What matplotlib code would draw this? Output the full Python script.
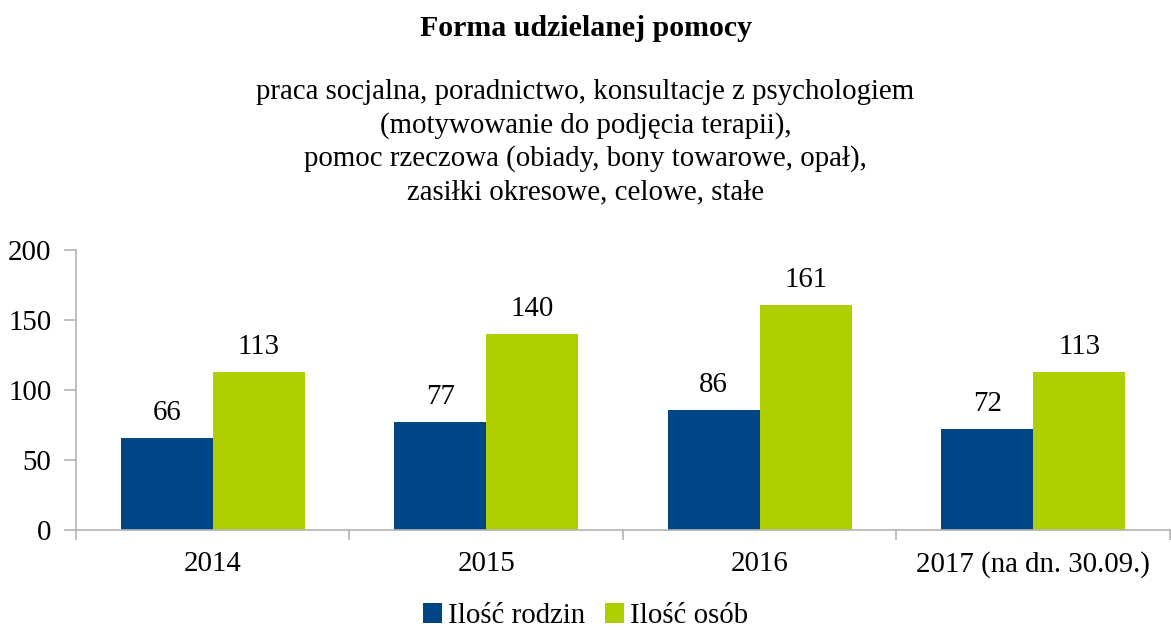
import matplotlib
matplotlib.use("Agg")
import matplotlib.pyplot as plt
import numpy as np

categories = ["2014", "2015", "2016", "2017 (na dn. 30.09.)"]
rodziny = [66, 77, 86, 72]
osoby = [113, 140, 161, 113]
series_names = ["Ilość rodzin", "Ilość osób"]
yticks = [0, 50, 100, 150, 200]

plt.rcParams['font.family'] = ['Liberation Serif', 'DejaVu Serif']
FS = 20.8

fig = plt.figure(figsize=(11.71, 6.3), dpi=100)
ax = fig.add_axes([0.0649, 0.1587, 0.9341, 0.4445])

c1 = '#004586'
c2 = '#b0cf00'
x = np.arange(len(categories))
w = 0.336
b1 = ax.bar(x - w/2, rodziny, w, color=c1, label=series_names[0])
b2 = ax.bar(x + w/2, osoby, w, color=c2, label=series_names[1])
for bars, vals in ((b1, rodziny), (b2, osoby)):
    for r, v in zip(bars, vals):
        ax.annotate(str(v), (r.get_x() + r.get_width()/2, v), xytext=(0, 13),
                    textcoords='offset points', ha='center', va='baseline', fontsize=FS)

ax.set_xlim(-0.5, len(categories) - 0.5)
ax.set_ylim(0, 200)
ax.set_yticks(yticks)
ax.set_yticklabels([str(t) for t in yticks], fontsize=FS)
ax.set_xticks(np.arange(len(categories) + 1) - 0.5)
ax.set_xticklabels([])
ax.set_xticks(x, minor=True)
ax.set_xticklabels(categories, minor=True, fontsize=FS)
ax.tick_params(axis='x', which='minor', length=0, pad=15)
ax.tick_params(axis='x', which='major', length=7, color='#b3b3b3', width=1.2)
ax.tick_params(axis='y', length=8.6, color='#b3b3b3', width=1.2, pad=9)
for s in ['top', 'right']:
    ax.spines[s].set_visible(False)
for s in ['left', 'bottom']:
    ax.spines[s].set_color('#b3b3b3')
    ax.spines[s].set_linewidth(1.2)

fig.text(0.5, 1 - 28/630, "Forma udzielanej pomocy", ha='center', va='center', fontsize=21.5, fontweight='bold')
sub = ["praca socjalna, poradnictwo, konsultacje z psychologiem",
       "(motywowanie do podjęcia terapii),",
       "pomoc rzeczowa (obiady, bony towarowe, opał),",
       "zasiłki okresowe, celowe, stałe"]
for i, line in enumerate(sub):
    fig.text(0.5, 1 - (92 + i*33.3)/630, line, ha='center', va='center', fontsize=FS)

fig.legend(handles=[b1, b2], labels=series_names, loc='center', bbox_to_anchor=(0.5, 1 - 616/630),
           ncol=2, frameon=False, fontsize=FS, handlelength=0.67, handleheight=0.67,
           handletextpad=0.2, columnspacing=0.7)

fig.savefig("out.png", dpi=100)
